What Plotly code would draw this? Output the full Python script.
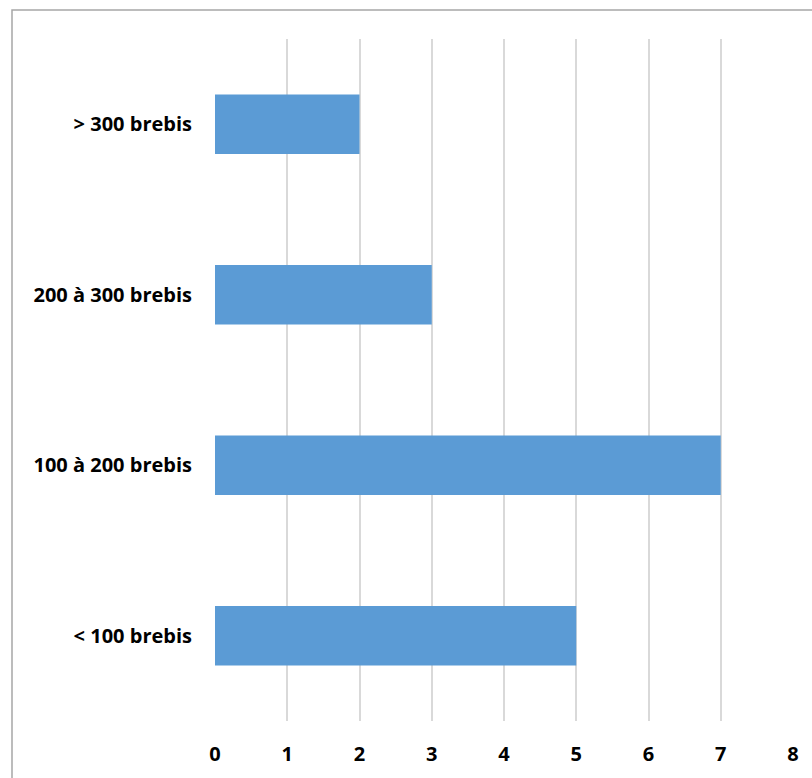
import plotly.graph_objects as go

categories = ["< 100 brebis", "100 à 200 brebis", "200 à 300 brebis", "> 300 brebis"]
values = [5, 7, 3, 2]
x_ticks = [0, 1, 2, 3, 4, 5, 6, 7, 8]

W, H = 812, 778
L, R, T, B = 215, 19, 39, 57
pw, ph = W - L - R, H - T - B


def px_to_paper_x(px):
    return (px - L) / pw


def px_to_paper_y(py):
    return (H - B - py) / ph


label_font = dict(family="Open Sans", size=20, color="black", weight="bold")

fig = go.Figure(
    go.Bar(
        x=values,
        y=categories,
        orientation="h",
        width=0.35,
        marker=dict(color="#5b9bd5", line=dict(width=0)),
        hoverinfo="x+y",
    )
)

fig.update_layout(
    width=W,
    height=H,
    margin=dict(l=L, r=R, t=T, b=B),
    paper_bgcolor="white",
    plot_bgcolor="white",
    showlegend=False,
    font=dict(family="Open Sans", size=20, color="black"),
    xaxis=dict(
        range=[0, 8],
        tickvals=x_ticks,
        ticktext=[str(v) for v in x_ticks],
        showgrid=True,
        gridcolor="#d9d9d9",
        gridwidth=1.5,
        zeroline=False,
        showline=False,
        ticks="",
        tickfont=label_font,
        ticklabelstandoff=19,
    ),
    yaxis=dict(
        categoryorder="array",
        categoryarray=categories,
        range=[-0.5, 3.5],
        showgrid=False,
        zeroline=False,
        showline=False,
        ticks="",
        tickfont=label_font,
        ticklabelstandoff=22,
    ),
    shapes=[
        dict(
            type="rect",
            xref="paper",
            yref="paper",
            x0=px_to_paper_x(12),
            x1=px_to_paper_x(W + 5),
            y0=px_to_paper_y(H + 5),
            y1=px_to_paper_y(10),
            line=dict(color="#a6a6a6", width=1.5),
            fillcolor="rgba(0,0,0,0)",
            layer="above",
        )
    ],
)

fig.write_html("out.html")
